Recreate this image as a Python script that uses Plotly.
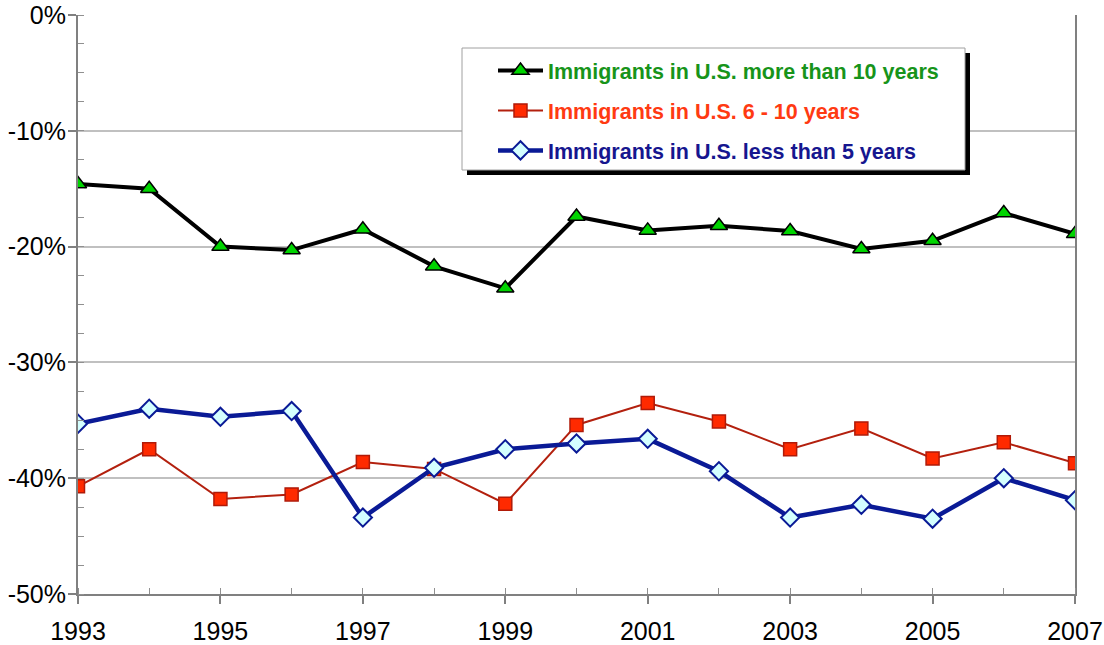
import plotly.graph_objects as go

# Survey years
years = list(range(1993, 2008))

# Percent difference by time in the U.S.
more_than_10 = [-14.6, -15.0, -20.0, -20.3, -18.5, -21.7, -23.6, -17.4, -18.6, -18.2, -18.65, -20.2, -19.5, -17.1, -18.9]
six_to_10 = [-40.7, -37.5, -41.8, -41.4, -38.6, -39.2, -42.2, -35.4, -33.5, -35.1, -37.5, -35.7, -38.3, -36.9, -38.7]
less_than_5 = [-35.3, -34.0, -34.7, -34.2, -43.4, -39.1, -37.5, -37.0, -36.6, -39.4, -43.4, -42.3, -43.5, -40.0, -41.9]

# Axis ticks
y_tickvals = [0, -10, -20, -30, -40, -50]
y_ticktext = ["0%", "-10%", "-20%", "-30%", "-40%", "-50%"]
x_tickvals = [1993, 1995, 1997, 1999, 2001, 2003, 2005, 2007]
x_ticktext = ["1993", "1995", "1997", "1999", "2001", "2003", "2005", "2007"]

series_names = [
    "Immigrants in U.S. more than 10 years",
    "Immigrants in U.S. 6 - 10 years",
    "Immigrants in U.S. less than 5 years",
]
label_colors = ["#17941a", "#ff3a12", "#16168f"]

FONT = "Liberation Sans, Arial, sans-serif"

fig = go.Figure()

fig.add_trace(go.Scatter(
    x=years, y=more_than_10, mode="lines+markers",
    name=f"<span style='color:{label_colors[0]}'>{series_names[0]}</span>",
    legendgroup="a",
    line=dict(color="#000000", width=4),
    marker=dict(symbol="triangle-up", size=15, color="#00d400",
                line=dict(color="#000000", width=1.5)),
))
fig.add_trace(go.Scatter(
    x=years, y=six_to_10, mode="lines+markers",
    name=f"<span style='color:{label_colors[1]}'>{series_names[1]}</span>",
    legendgroup="b",
    line=dict(color="#b3200e", width=2),
    marker=dict(symbol="square", size=13, color="#ff2a00",
                line=dict(color="#b01a08", width=1.5)),
))
fig.add_trace(go.Scatter(
    x=years, y=less_than_5, mode="lines+markers",
    name=f"<span style='color:{label_colors[2]}'>{series_names[2]}</span>",
    legendgroup="c",
    line=dict(color="#0a1a96", width=4.5),
    marker=dict(symbol="diamond", size=14, color="#d4ffff",
                line=dict(color="#0a1a96", width=2)),
))

# Plot area in pixels: x 78..1075, y 15..594
L, R, T, B = 78, 1075, 15, 594
W, H = R - L, B - T


def px_x(p):
    return (p - L) / W


def px_y(p):
    return 1 - (p - T) / H


# Legend frame with drop shadow
fig.add_shape(type="rect", xref="paper", yref="paper", layer="above",
              x0=px_x(467), x1=px_x(970), y0=px_y(175), y1=px_y(53),
              fillcolor="#000000", line=dict(width=0))
fig.add_shape(type="rect", xref="paper", yref="paper", layer="above",
              x0=px_x(462), x1=px_x(965), y0=px_y(170), y1=px_y(48),
              fillcolor="#ffffff", line=dict(color="#a0a0a0", width=1))

fig.update_layout(
    width=1104, height=645,
    margin=dict(l=L, r=1104 - R, t=T, b=645 - B),
    paper_bgcolor="#ffffff", plot_bgcolor="#ffffff",
    font=dict(family=FONT, color="#000000"),
    showlegend=True,
    legend=dict(
        x=px_x(483), y=px_y(50), xanchor="left", yanchor="top",
        bgcolor="rgba(0,0,0,0)", borderwidth=0,
        font=dict(family=FONT, size=21.5, weight="bold"),
        traceorder="grouped", tracegroupgap=9,
        itemwidth=45, indentation=10,
    ),
    xaxis=dict(
        range=[1993, 2007], tickmode="array", automargin=False,
        tickvals=x_tickvals, ticktext=x_ticktext,
        ticks="outside", ticklen=8, tickwidth=1.5, tickcolor="#808080",
        showline=True, linecolor="#808080", linewidth=2,
        showgrid=False, zeroline=False, ticklabelstandoff=6,
        tickfont=dict(family=FONT, size=25, color="#000000"),
        minor=dict(tickmode="array", tickvals=years, ticks="inside",
                   ticklen=6, tickwidth=1.2, tickcolor="#909090", showgrid=False),
    ),
    yaxis=dict(
        range=[-50, 0], tickmode="array", automargin=False,
        tickvals=y_tickvals, ticktext=y_ticktext,
        ticks="outside", ticklen=8, tickwidth=1.5, tickcolor="#808080",
        showline=True, linecolor="#808080", linewidth=2, mirror=True,
        showgrid=True, gridcolor="#c0c0c0", gridwidth=1.5,
        zeroline=False, ticklabelstandoff=-3,
        tickfont=dict(family=FONT, size=25, color="#000000"),
        minor=dict(dtick=2.5, tick0=0, ticks="inside", ticklen=6,
                   tickwidth=1.2, tickcolor="#909090", showgrid=False),
    ),
)

fig.write_html("out.html")
